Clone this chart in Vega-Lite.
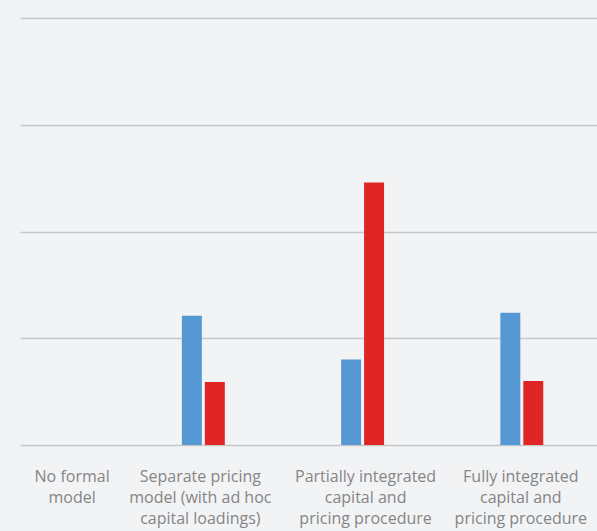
{
  "$schema": "https://vega.github.io/schema/vega-lite/v6.json",
  "width": 577,
  "height": 427,
  "autosize": {"type": "none"},
  "padding": {"left": 20, "top": 18, "right": 0, "bottom": 86},
  "background": "#f2f3f5",
  "config": {
    "view": {"stroke": null},
    "font": "Open Sans"
  },
  "data": {
    "values": [
      {"approach": "No formal model", "series": "A", "value": 0},
      {"approach": "No formal model", "series": "B", "value": 0},
      {"approach": "Separate pricing model (with ad hoc capital loadings)", "series": "A", "value": 12.1},
      {"approach": "Separate pricing model (with ad hoc capital loadings)", "series": "B", "value": 5.9},
      {"approach": "Partially integrated capital and pricing procedure", "series": "A", "value": 8.0},
      {"approach": "Partially integrated capital and pricing procedure", "series": "B", "value": 24.6},
      {"approach": "Fully integrated capital and pricing procedure", "series": "A", "value": 12.4},
      {"approach": "Fully integrated capital and pricing procedure", "series": "B", "value": 6.0}
    ]
  },
  "mark": {"type": "bar"},
  "encoding": {
    "x": {
      "field": "approach",
      "type": "nominal",
      "sort": null,
      "scale": {"paddingInner": 0.7304, "paddingOuter": 0.177, "align": 0.047, "round": false},
      "axis": {
        "title": null,
        "domain": false,
        "ticks": false,
        "labelAngle": 0,
        "labelFontSize": 16,
        "labelColor": "#858585",
        "labelPadding": 23,
        "labelLineHeight": 21,
        "labelBaseline": "top",
        "labelOffset": {
          "condition": [
            {"test": "datum.value === 'No formal model'", "value": 28},
            {"test": "datum.value === 'Separate pricing model (with ad hoc capital loadings)'", "value": -3},
            {"test": "datum.value === 'Partially integrated capital and pricing procedure'", "value": 3}
          ],
          "value": -1
        },
        "labelExpr": "datum.value === 'No formal model' ? ['No formal', 'model'] : datum.value === 'Separate pricing model (with ad hoc capital loadings)' ? ['Separate pricing', 'model (with ad hoc', 'capital loadings)'] : datum.value === 'Partially integrated capital and pricing procedure' ? ['Partially integrated', 'capital and', 'pricing procedure'] : ['Fully integrated', 'capital and', 'pricing procedure']"
      }
    },
    "xOffset": {
      "field": "series",
      "type": "nominal",
      "scale": {"paddingInner": 0.13, "paddingOuter": 0}
    },
    "y": {
      "field": "value",
      "type": "quantitative",
      "scale": {"domain": [0, 40], "nice": false},
      "axis": {
        "title": null,
        "labels": false,
        "ticks": false,
        "domain": false,
        "values": [0, 10, 20, 30, 40],
        "gridColor": "#c6c7c9",
        "gridWidth": 1.5
      }
    },
    "color": {
      "field": "series",
      "type": "nominal",
      "scale": {"range": ["#5698d3", "#e02527"]},
      "legend": null
    }
  }
}
